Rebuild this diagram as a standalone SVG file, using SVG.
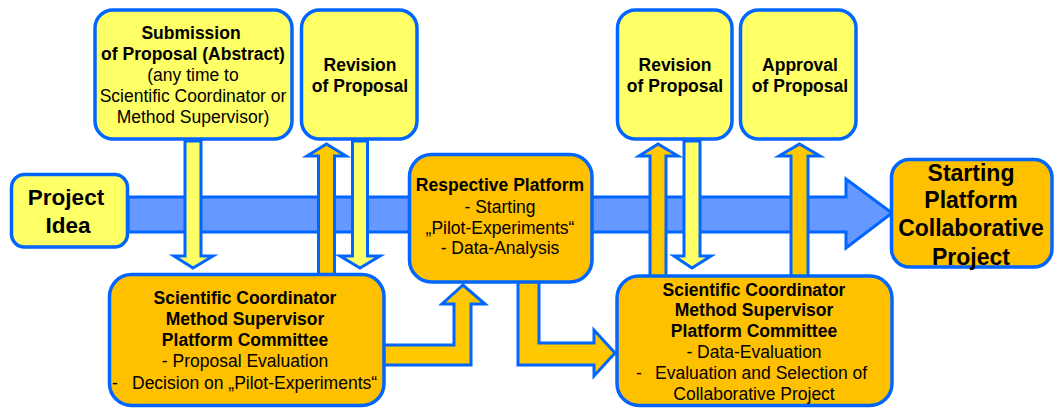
<svg xmlns="http://www.w3.org/2000/svg" width="1056" height="408" viewBox="0 0 1056 408">
<defs>
<style>
.box{stroke:#0066FF;stroke-width:3.5}
.yel{fill:#FFFF66}
.org{fill:#FFC000}
.arr{stroke:#0066FF;stroke-width:3;stroke-linejoin:miter}
.ay{fill:#FFFF66}
.ao{fill:#FFC800}
.blue{fill:#6699FF;stroke:#0066FF;stroke-width:3}
text{font-family:"Liberation Sans",Arial,sans-serif;fill:#000;text-anchor:middle}
.b{font-weight:bold;font-size:17.5px}
.r{font-size:17.5px}
.big{font-weight:bold;font-size:22.5px}
.st{text-anchor:start}
</style>
</defs>
<g id="connectors">
<polygon class="blue" points="128,197 846,197 846,179 892,213 846,248 846,232 128,232"/>
<polygon class="arr ay" points="185,141 201,141 201,256 213,256 193,268 174,256 185,256"/>
<polygon class="arr ao" points="318.5,275 334.5,275 334.5,156 346,156 326.5,144 307,156 318.5,156"/>
<polygon class="arr ay" points="352.5,141 367.5,141 367.5,256 380,256 360,268 340,256 352.5,256"/>
<polygon class="arr ao" points="650,277 666,277 666,156 678,156 658,144 639,156 650,156"/>
<polygon class="arr ay" points="684,141 700,141 700,256 711,256 692,268 674,256 684,256"/>
<polygon class="arr ao" points="791,277 808,277 808,156 820,156 799.5,144 779,156 791,156"/>
<polygon class="arr ao" points="380,345 454,345 454,304 442,304 463,285 485,304 471,304 471,365 380,365"/>
<polygon class="arr ao" points="518,280 539,280 539,343 594,343 594,330 615,353 594,376 594,365 518,365"/>
</g>
<g id="submission">
<rect class="box yel" x="95" y="10" width="197" height="129" rx="18"/>
<text class="b" x="191" y="39">Submission</text>
<text class="b" x="193" y="60">of Proposal (Abstract)</text>
<text class="r" x="193" y="81">(any time to</text>
<text class="r" x="193" y="102">Scientific Coordinator or</text>
<text class="r" x="193" y="123">Method Supervisor)</text>
</g>
<g id="revision1">
<rect class="box yel" x="301.5" y="10" width="115.5" height="129" rx="18"/>
<text class="b" x="360" y="71">Revision</text>
<text class="b" x="360" y="92">of Proposal</text>
</g>
<g id="revision2">
<rect class="box yel" x="617.5" y="10" width="114.5" height="129" rx="18"/>
<text class="b" x="675" y="71">Revision</text>
<text class="b" x="675" y="92">of Proposal</text>
</g>
<g id="approval">
<rect class="box yel" x="740.5" y="10" width="115.5" height="129" rx="18"/>
<text class="b" x="800" y="71">Approval</text>
<text class="b" x="800" y="92">of Proposal</text>
</g>
<g id="project-idea">
<rect class="box yel" x="11.5" y="174.5" width="116" height="72.5" rx="13"/>
<text class="big" x="66" y="205">Project</text>
<text class="big" x="68" y="233">Idea</text>
</g>
<g id="starting">
<rect class="box org" x="891.5" y="159.5" width="160.5" height="107.5" rx="18"/>
<text class="big" x="971" y="181" style="font-size:23px">Starting</text>
<text class="big" x="971" y="208" style="font-size:23px">Platform</text>
<text class="big" x="971" y="236" style="font-size:23px">Collaborative</text>
<text class="big" x="971" y="265" style="font-size:23px">Project</text>
</g>
<g id="respective-platform">
<rect class="box org" x="409.5" y="154.5" width="182.5" height="127.5" rx="22"/>
<text class="b" x="500" y="191">Respective Platform</text>
<text class="r" x="500" y="213">- Starting</text>
<text class="r" x="500" y="234">„Pilot-Experiments“</text>
<text class="r" x="500" y="254">- Data-Analysis</text>
</g>
<g id="committee1">
<rect class="box org" x="109.5" y="274.5" width="274.5" height="131" rx="22"/>
<text class="b" x="245" y="304">Scientific Coordinator</text>
<text class="b" x="245" y="325">Method Supervisor</text>
<text class="b" x="245" y="346">Platform Committee</text>
<text class="r" x="245" y="367">- Proposal Evaluation</text>
<text class="r st" x="112" y="389">-</text>
<text class="r st" x="132" y="389">Decision on „Pilot-Experiments“</text>
</g>
<g id="committee2">
<rect class="box org" x="617" y="276" width="275" height="129.5" rx="22"/>
<text class="b" x="754" y="296">Scientific Coordinator</text>
<text class="b" x="754" y="316">Method Supervisor</text>
<text class="b" x="754" y="337">Platform Committee</text>
<text class="r" x="754" y="358">- Data-Evaluation</text>
<text class="r st" x="636" y="379">-</text>
<text class="r st" x="655" y="379">Evaluation and Selection of</text>
<text class="r" x="754" y="400">Collaborative Project</text>
</g>
</svg>
